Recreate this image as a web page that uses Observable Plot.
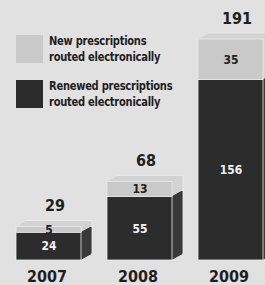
<!DOCTYPE html>
<html>
<head>
<meta charset="utf-8">
<script src="https://cdn.jsdelivr.net/npm/d3@7"></script>
<script src="https://cdn.jsdelivr.net/npm/@observablehq/plot@0.6"></script>
<style>
  html, body { margin: 0; padding: 0; background: #e1e1e1; }
  #wrap { position: relative; width: 265px; height: 285px; overflow: hidden; background: #e1e1e1; }
  #legend { position: absolute; left: 0; top: 0; font-family: "Liberation Sans Narrow", "DejaVu Sans Condensed", sans-serif; font-weight: bold; color: #1e1e1e; }
  .item { position: absolute; left: 16px; display: flex; align-items: center; width: 220px; }
  .sw { width: 27px; height: 28px; margin-right: 6px; flex: none; }
  .lab { font-size: 13px; line-height: 15.5px; letter-spacing: -0.3px; transform: scaleX(0.85); transform-origin: left center; white-space: nowrap; }
</style>
</head>
<body>
<div id="wrap"><div id="chart"></div><div id="legend"></div></div>
<script>
const years = ["2007", "2008", "2009"];
const renewed = [24, 55, 156];
const newRx = [5, 13, 35];
const totals = [29, 68, 191];
const seriesNames = ["Renewed prescriptions routed electronically", "New prescriptions routed electronically"];
const legendLines = [["New prescriptions", "routed electronically"], ["Renewed prescriptions", "routed electronically"]];

const frontColor = {[seriesNames[0]]: "#2c2c2c", [seriesNames[1]]: "#c9c9c9"};
const backColor = {[seriesNames[0]]: "#393939", [seriesNames[1]]: "#d3d3d3"};
const textColor = {[seriesNames[0]]: "#f2f2f2", [seriesNames[1]]: "#222"};

const rows = [];
years.forEach((y, i) => {
  rows.push({year: y, series: seriesNames[0], value: renewed[i]});
  rows.push({year: y, series: seriesNames[1], value: newRx[i]});
});
const totalRows = years.map((y, i) => ({year: y, total: totals[i]}));

const font = '"Liberation Sans Narrow", "DejaVu Sans Condensed", sans-serif';

// extrusion layers for a pseudo-3D depth
const depthX = 11, depthY = 6;
const depthMarks = [];
for (let k = depthX; k >= 1; k--) {
  depthMarks.push(Plot.barY(rows, Plot.stackY({
    x: "year", y: "value", order: seriesNames,
    fill: d => backColor[d.series],
    stroke: k === depthX ? "#f0f0f0" : "none", strokeWidth: 0.8,
    dx: k, dy: -depthY * k / depthX
  })));
}

const chart = Plot.plot({
  width: 265,
  height: 285,
  margin: 0,
  style: {background: "transparent", fontFamily: font},
  x: {domain: years, range: [-11.5, 289.5], paddingInner: 0.2896, paddingOuter: 0.2896, axis: null},
  y: {domain: [0, 191], range: [260, 39], axis: null},
  marks: [
    ...depthMarks,
    // front faces
    Plot.barY(rows, Plot.stackY({x: "year", y: "value", order: seriesNames, fill: d => frontColor[d.series], stroke: "#ececec", strokeWidth: 0.8})),
    // segment labels
    Plot.text(rows, Plot.stackY({x: "year", y: "value", order: seriesNames, text: d => String(d.value), fill: d => textColor[d.series], fontSize: 12, fontWeight: "bold"})),
    // totals
    Plot.text(totalRows, {x: "year", y: "total", text: d => String(d.total), dy: -21, dx: 6, fontSize: 16, fontWeight: "bold", fill: "#1e1e1e"}),
    // year labels
    Plot.text(totalRows, {x: "year", y: () => 0, text: "year", dy: 16, dx: -2, fontSize: 16, fontWeight: "bold", fill: "#1e1e1e"})
  ]
});
document.getElementById("chart").appendChild(chart);

const legend = document.getElementById("legend");
const swColors = [frontColor[seriesNames[1]], frontColor[seriesNames[0]]];
const tops = [33, 78];
legendLines.forEach((lines, i) => {
  const item = document.createElement("div");
  item.className = "item";
  item.style.top = tops[i] + "px";
  const sw = document.createElement("div");
  sw.className = "sw";
  sw.style.background = swColors[i];
  const lab = document.createElement("div");
  lab.className = "lab";
  lab.innerHTML = lines.join("<br>");
  item.appendChild(sw);
  item.appendChild(lab);
  legend.appendChild(item);
});
</script>
</body>
</html>
